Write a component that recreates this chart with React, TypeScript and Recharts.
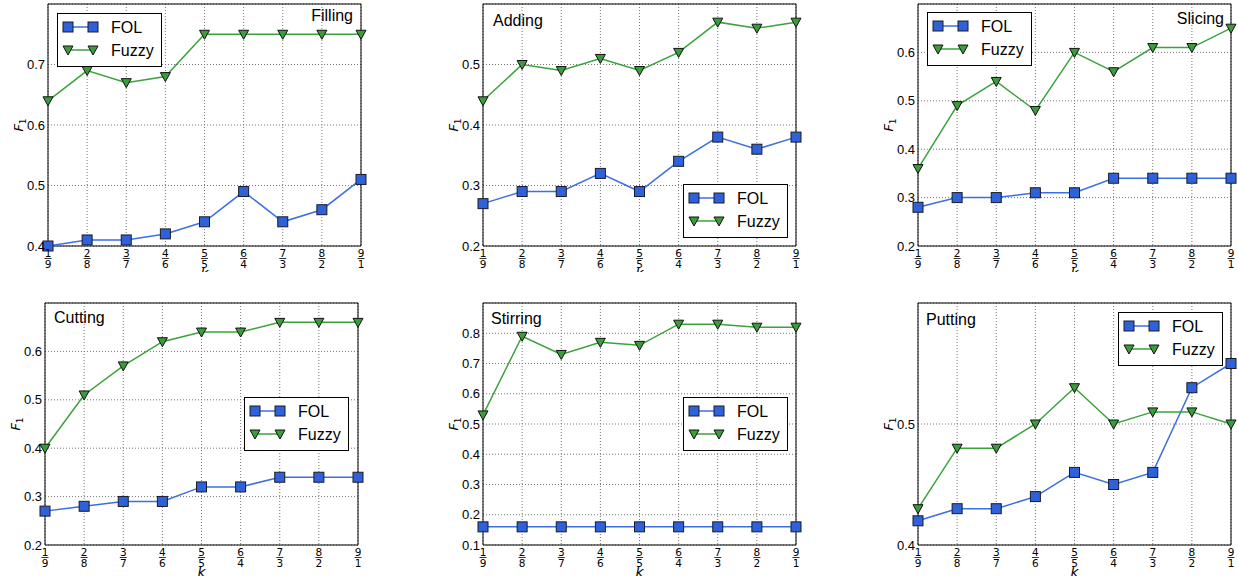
import { LineChart, Line, XAxis, YAxis, CartesianGrid, Legend, ReferenceArea } from 'recharts'

// k = train/test split, drawn as a stacked fraction under each tick
const K_TOP = ['1', '2', '3', '4', '5', '6', '7', '8', '9']
const K_BOTTOM = ['9', '8', '7', '6', '5', '4', '3', '2', '1']

const FILLING_FOL = [0.40, 0.41, 0.41, 0.42, 0.44, 0.49, 0.44, 0.46, 0.51]
const FILLING_FUZZY = [0.64, 0.69, 0.67, 0.68, 0.75, 0.75, 0.75, 0.75, 0.75]

const ADDING_FOL = [0.27, 0.29, 0.29, 0.32, 0.29, 0.34, 0.38, 0.36, 0.38]
const ADDING_FUZZY = [0.44, 0.50, 0.49, 0.51, 0.49, 0.52, 0.57, 0.56, 0.57]

const SLICING_FOL = [0.28, 0.30, 0.30, 0.31, 0.31, 0.34, 0.34, 0.34, 0.34]
const SLICING_FUZZY = [0.36, 0.49, 0.54, 0.48, 0.60, 0.56, 0.61, 0.61, 0.65]

const CUTTING_FOL = [0.27, 0.28, 0.29, 0.29, 0.32, 0.32, 0.34, 0.34, 0.34]
const CUTTING_FUZZY = [0.40, 0.51, 0.57, 0.62, 0.64, 0.64, 0.66, 0.66, 0.66]

const STIRRING_FOL = [0.16, 0.16, 0.16, 0.16, 0.16, 0.16, 0.16, 0.16, 0.16]
const STIRRING_FUZZY = [0.53, 0.79, 0.73, 0.77, 0.76, 0.83, 0.83, 0.82, 0.82]

const PUTTING_FOL = [0.42, 0.43, 0.43, 0.44, 0.46, 0.45, 0.46, 0.53, 0.55]
const PUTTING_FUZZY = [0.43, 0.48, 0.48, 0.50, 0.53, 0.50, 0.51, 0.51, 0.50]

const SERIES = [
  { key: 'fol', name: 'FOL', line: '#3b6fe3', fill: '#2f62d8', marker: 'square' },
  { key: 'fuzzy', name: 'Fuzzy', line: '#3ba23b', fill: '#3a9c3a', marker: 'tri' },
]

const PLOT_W = 313
const PLOT_H = 242
const Y_AXIS_W = 45
const TOP_PAD = 4
const LABEL_FONT = '"Liberation Sans", Arial, sans-serif'

const buildRows = (fol: number[], fuzzy: number[]) =>
  K_TOP.map((t, i) => ({ k: `${t}/${K_BOTTOM[i]}`, fol: fol[i], fuzzy: fuzzy[i] }))

const Marker = ({ kind, cx, cy, fill }: { kind: string; cx: number; cy: number; fill: string }) => {
  if (kind === 'square') {
    return <rect x={cx - 5} y={cy - 5} width={10} height={10} fill={fill} stroke="#1a1a2a" strokeWidth={1} />
  }
  return (
    <polygon
      points={`${cx - 5},${cy - 4} ${cx + 5},${cy - 4} ${cx},${cy + 5}`}
      fill={fill}
      stroke="#111"
      strokeWidth={1}
    />
  )
}

const FracTick = ({ x, y, payload }: any) => {
  const [top, bottom] = String(payload.value).split('/')
  return (
    <g transform={`translate(${x},${y})`}>
      <text y={9} textAnchor="middle" fontSize={10.5} fontFamily="DejaVu Sans" fill="#000">{top}</text>
      <line x1={-3.5} x2={3.5} y1={10.5} y2={10.5} stroke="#000" strokeWidth={0.8} />
      <text y={20} textAnchor="middle" fontSize={10.5} fontFamily="DejaVu Sans" fill="#000">{bottom}</text>
    </g>
  )
}

// the top row's "k" is mostly hidden under the lower panels, as in the original figure
const KLabel = () => (
  <text x={Y_AXIS_W + PLOT_W / 2} y={TOP_PAD + PLOT_H + 32} textAnchor="middle" fontSize={14}
    fontStyle="italic" fontFamily="DejaVu Sans" fill="#000">k</text>
)

const F1Label = () => {
  const x = Y_AXIS_W - 25
  const y = TOP_PAD + PLOT_H / 2
  return (
    <text x={x} y={y} transform={`rotate(-90 ${x} ${y})`} textAnchor="middle" fontSize={13}
      fontFamily="DejaVu Sans" fill="#000">
      <tspan fontStyle="italic">F</tspan>
      <tspan fontSize={9} dy={3}>1</tspan>
    </text>
  )
}

const LegendBox = () => (
  <svg width={105} height={54} style={{ display: 'block' }}>
    <rect x={0.5} y={0.5} width={104} height={53} fill="#fff" stroke="#000" strokeWidth={1} />
    {SERIES.map((s, i) => {
      const cy = 14 + i * 23
      return (
        <g key={s.key}>
          <line x1={11} x2={36} y1={cy} y2={cy} stroke={s.line} strokeWidth={1.5} />
          <Marker kind={s.marker} cx={11} cy={cy} fill={s.fill} />
          <Marker kind={s.marker} cx={36} cy={cy} fill={s.fill} />
          <text x={54} y={cy + 6} fontSize={16} fontFamily={LABEL_FONT} fill="#000">{s.name}</text>
        </g>
      )
    })}
  </svg>
)

interface PanelProps {
  title: string
  fol: number[]
  fuzzy: number[]
  domain: [number, number]
  ticks: number[]
  left: number
  top: number
  height: number
  legendAt: [number, number]
  titleAt: { x: number; y: number; right?: boolean }
}

function Panel({ title, fol, fuzzy, domain, ticks, left, top, height, legendAt, titleAt }: PanelProps) {
  const data = buildRows(fol, fuzzy)
  const width = Y_AXIS_W + PLOT_W + 8
  return (
    <div style={{ position: 'absolute', left, top, width, height, overflow: 'hidden' }}>
      <LineChart width={width} height={height} data={data} margin={{ top: TOP_PAD, right: 8, bottom: 0, left: 0 }}>
        <CartesianGrid stroke="#777" strokeDasharray="1 2" />
        <XAxis
          dataKey="k"
          height={height - TOP_PAD - PLOT_H}
          interval={0}
          tick={<FracTick />}
          tickSize={0}
          tickLine={false}
          axisLine={false}
          label={<KLabel />}
        />
        <YAxis
          type="number"
          width={Y_AXIS_W}
          domain={domain}
          ticks={ticks}
          tickSize={0}
          tickMargin={3}
          tickLine={false}
          axisLine={false}
          tick={{ fontSize: 13, fill: '#000', fontFamily: LABEL_FONT }}
          tickFormatter={(v: number) => v.toFixed(1)}
          label={<F1Label />}
        />
        <ReferenceArea x1={data[0].k} x2={data[data.length - 1].k} y1={domain[0]} y2={domain[1]}
          fill="none" stroke="#000" strokeWidth={1} ifOverflow="visible" />
        {SERIES.map((s) => (
          <Line
            key={s.key}
            dataKey={s.key}
            name={s.name}
            stroke={s.line}
            strokeWidth={1.5}
            isAnimationActive={false}
            activeDot={false}
            dot={(p: any) => <Marker key={`${s.key}-${p.index}`} kind={s.marker} cx={p.cx} cy={p.cy} fill={s.fill} />}
          />
        ))}
        <Legend
          layout="vertical"
          align="center"
          verticalAlign="middle"
          content={() => <LegendBox />}
          wrapperStyle={{ left: Y_AXIS_W + legendAt[0], top: TOP_PAD + legendAt[1], width: 105, height: 54 }}
        />
      </LineChart>
      <div
        style={{
          position: 'absolute',
          top: TOP_PAD + titleAt.y,
          ...(titleAt.right
            ? { right: width - Y_AXIS_W - PLOT_W - titleAt.x }
            : { left: Y_AXIS_W + titleAt.x }),
          fontFamily: LABEL_FONT,
          fontSize: 16,
          lineHeight: '16px',
          color: '#000',
          whiteSpace: 'nowrap',
        }}
      >
        {title}
      </div>
    </div>
  )
}

export default function App() {
  return (
    <div style={{ position: 'absolute', left: 0, top: 0, width: 1238, height: 576, overflow: 'hidden', background: '#fff' }}>
      <Panel title="Filling" fol={FILLING_FOL} fuzzy={FILLING_FUZZY} domain={[0.4, 0.8]} ticks={[0.4, 0.5, 0.6, 0.7]}
        left={3} top={0} height={272} legendAt={[9, 9]} titleAt={{ x: -8, y: 3.5, right: true }} />
      <Panel title="Adding" fol={ADDING_FOL} fuzzy={ADDING_FUZZY} domain={[0.2, 0.6]} ticks={[0.2, 0.3, 0.4, 0.5]}
        left={438} top={0} height={272} legendAt={[200, 180]} titleAt={{ x: 10, y: 8.5 }} />
      <Panel title="Slicing" fol={SLICING_FOL} fuzzy={SLICING_FUZZY} domain={[0.2, 0.7]} ticks={[0.2, 0.3, 0.4, 0.5, 0.6]}
        left={873} top={0} height={272} legendAt={[9, 8]} titleAt={{ x: -7, y: 6.5, right: true }} />
      <Panel title="Cutting" fol={CUTTING_FOL} fuzzy={CUTTING_FUZZY} domain={[0.2, 0.7]} ticks={[0.2, 0.3, 0.4, 0.5, 0.6]}
        left={0} top={299} height={277} legendAt={[199, 94]} titleAt={{ x: 9, y: 6.5 }} />
      <Panel title="Stirring" fol={STIRRING_FOL} fuzzy={STIRRING_FUZZY} domain={[0.1, 0.9]}
        ticks={[0.1, 0.2, 0.3, 0.4, 0.5, 0.6, 0.7, 0.8]}
        left={438} top={299} height={277} legendAt={[200, 94]} titleAt={{ x: 8, y: 7.5 }} />
      <Panel title="Putting" fol={PUTTING_FOL} fuzzy={PUTTING_FUZZY} domain={[0.4, 0.6]} ticks={[0.4, 0.5]}
        left={873} top={299} height={277} legendAt={[200, 9]} titleAt={{ x: 8, y: 8.5 }} />
    </div>
  )
}
